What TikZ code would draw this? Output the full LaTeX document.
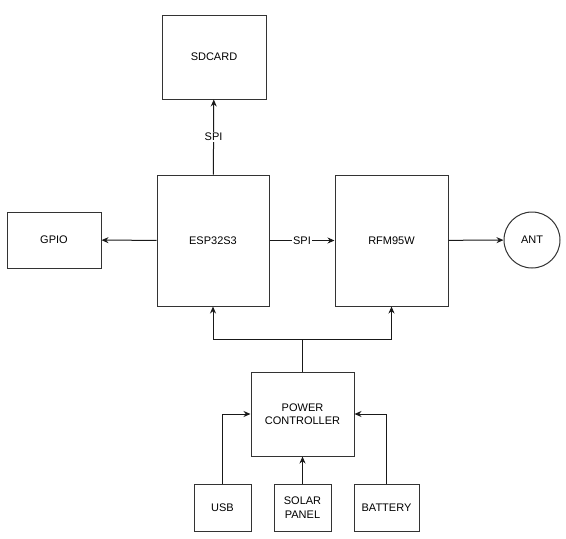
\documentclass[tikz,border=0pt]{standalone}
\usepackage{fontspec}
\setmainfont{Liberation Sans}
\usepackage{tikz}
\usetikzlibrary{arrows.meta, positioning}
\tikzset{
  blk/.style={rectangle, line width=1pt, draw=black!80, fill=white, align=center,
              font=\fontsize{11}{13.5}\selectfont, inner sep=2pt},
  antb/.style={circle, line width=1pt, draw=black!80, fill=white,
               font=\fontsize{11}{13.5}\selectfont, minimum size=56pt, inner sep=0pt},
  pipe/.style={-{Stealth[length=7pt, width=6pt]}, line width=1pt, draw=black!90},
  wire/.style={line width=1pt, draw=black!90},
  buslbl/.style={font=\fontsize{11}{13}\selectfont, fill=white, inner sep=1pt},
}
\begin{document}
\begin{tikzpicture}[x=1pt, y=-1pt]
  \useasboundingbox (0,0) rectangle (566,539);
  \node[blk, minimum width=104pt, minimum height=84pt] (sd) at (214,57)      {SDCARD};
  \node[blk, minimum width=112pt, minimum height=131pt] (esp) at (213,240.5) {ESP32S3};
  \node[blk, minimum width=113pt, minimum height=131pt] (rfm) at (391.5,240.5) {RFM95W};
  \node[blk, minimum width=94pt, minimum height=56pt] (gpio) at (54,240)     {GPIO};
  \node[antb] (ant) at (532,240) {ANT};
  \node[blk, minimum width=103pt, minimum height=84pt] (pwr) at (302.5,414)  {POWER\\CONTROLLER};
  \node[blk, minimum width=57pt, minimum height=47pt] (usb) at (222.5,507.5)  {USB};
  \node[blk, minimum width=57pt, minimum height=47pt] (sol) at (302.5,507.5)  {SOLAR\\PANEL};
  \node[blk, minimum width=65pt, minimum height=47pt] (bat) at (386.5,507.5)  {BATTERY};
  \coordinate (split) at (302.5,339);
  % buses
  \draw[pipe] (esp) -- node[buslbl] {SPI} (sd);
  \draw[pipe] (esp) -- node[buslbl] {SPI} (rfm);
  \draw[pipe] (esp) -- (gpio);
  \draw[pipe] (rfm) -- (ant);
  % power
  \draw[wire] (pwr) -- (split);
  \draw[pipe] (split) -| (esp.south);
  \draw[pipe] (split) -| (rfm.south);
  \draw[pipe] (usb.north) |- (pwr.west);
  \draw[pipe] (sol) -- (pwr);
  \draw[pipe] (bat.north) |- (pwr.east);
\end{tikzpicture}
\end{document}
